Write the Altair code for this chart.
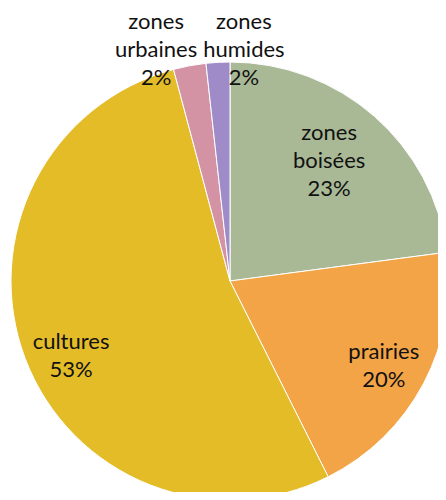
import altair as alt
import pandas as pd

categories = ["zones boisées", "prairies", "cultures", "zones urbaines", "zones humides"]
label_lines = ["zones\nboisées\n23%", "prairies\n20%", "cultures\n53%", "zones\nurbaines\n2%", "zones\nhumides\n2%"]
values = [22.9, 19.7, 53.25, 2.4, 1.75]
colors = ["#a9b996", "#f2a446", "#e3bc28", "#d393a5", "#a08bc9"]

df = pd.DataFrame({
    "cat": categories,
    "label": label_lines,
    "value": values,
    "order": list(range(len(categories))),
})

theta = alt.Theta("value:Q", stack=True)
color = alt.Color("cat:N", scale=alt.Scale(domain=categories, range=colors), legend=None)
order = alt.Order("order:Q")
cx = alt.value(222)
cy = alt.value(273)

arcs = alt.Chart(df).mark_arc(outerRadius=219, stroke="white", strokeWidth=1).encode(
    theta=theta, color=color, order=order, x=cx, y=cy
)

text_style = dict(font="Lato", fontSize=22, color="#111111", lineBreak="\n", lineHeight=28,
                  align="center", baseline="middle")


def label_layer(cat, radius, dx, dy):
    return alt.Chart(df).transform_calculate(
        lab=f"datum.cat == '{cat}' ? datum.label : ''"
    ).mark_text(radius=radius, dx=dx, dy=dy, **text_style).encode(
        theta=theta, text="lab:N", order=order, x=cx, y=cy
    )


labels = [
    label_layer("zones boisées", 161, -7, -27),
    label_layer("prairies", 174, 0, -10),
    label_layer("cultures", 170, 0, 1),
    label_layer("zones urbaines", 238, -30, -25),
    label_layer("zones humides", 238, 27, -21),
]

chart = alt.layer(arcs, *labels).properties(
    width=430, height=484, autosize=alt.AutoSizeParams(type="none"), padding=0
).configure_view(stroke=None)

chart.save("out.html", embed_options={"renderer": "svg", "actions": False})
